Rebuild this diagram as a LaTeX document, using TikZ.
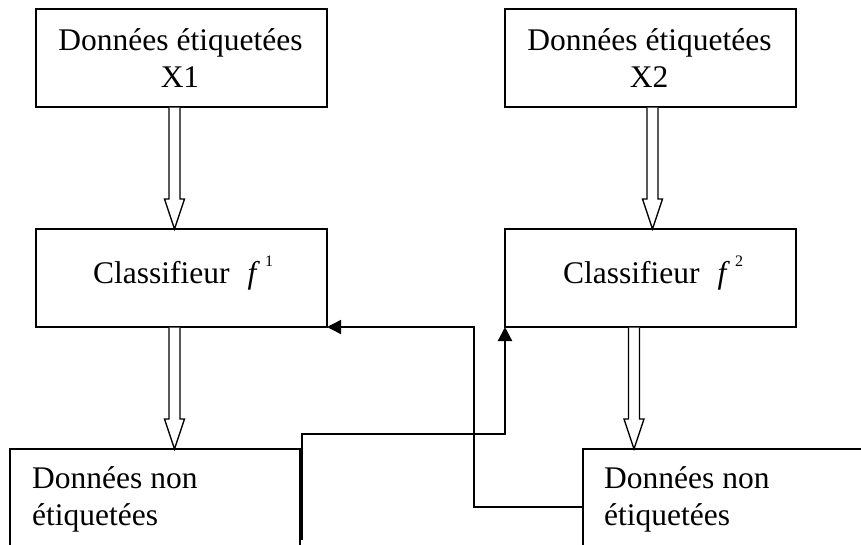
\documentclass[tikz,border=0pt]{standalone}
\usepackage{fontspec}
\setmainfont{Liberation Serif}
\usetikzlibrary{arrows.meta,calc}
\tikzset{
  box/.style={draw, line width=1.3pt, rectangle, inner sep=0pt, outer sep=0pt, anchor=north west},
  lbl/.style={inner sep=0pt, font=\fontsize{31.5}{37}\selectfont},
  harrow/.style={draw, line width=1.3pt, fill=white, line join=miter},
  conn/.style={line width=1.4pt, -{Triangle[length=14pt,width=14pt]}},
  connthick/.style={line width=2.2pt, -{Triangle[length=14pt,width=14pt]}}
}
\newcommand{\hollowarrow}[2]{%
  \draw[harrow] let \p1=(#1), \p2=(#2) in
    (\x1-5.5pt,\y1-0.7pt) -- (\x1-5.5pt,\y2+30pt) -- (\x1-10pt,\y2+30pt) -- (\x1,\y2)
    -- (\x1+10pt,\y2+30pt) -- (\x1+5.5pt,\y2+30pt) -- (\x1+5.5pt,\y1-0.7pt);}
\newcommand{\supone}[1]{\raisebox{17pt}{\fontsize{16}{16}\selectfont #1}}
\begin{document}
\begin{tikzpicture}[x=1pt,y=-1pt]
\useasboundingbox (0,0) rectangle (861,544);
\clip (0,0) rectangle (861,544);
% boxes
\node[box, minimum width=291pt, minimum height=98pt] (tl) at (36,9) {};
\node[box, minimum width=291pt, minimum height=98pt] (tr) at (505,9) {};
\node[box, minimum width=291pt, minimum height=98pt] (c1) at (36,229) {};
\node[box, minimum width=291pt, minimum height=98pt] (c2) at (505,229) {};
\node[box, minimum width=290pt, minimum height=130pt] (bl) at (10,449) {};
\node[box, minimum width=330pt, minimum height=130pt] (br) at (583,449) {};
% texts
\node[lbl, anchor=base] (tl1) at (180.5,50) {Données étiquetées};
\node[lbl, anchor=base] (tl2) at (180,87) {X1};
\node[lbl, anchor=base] (tr1) at (649.5,50) {Données étiquetées};
\node[lbl, anchor=base] (tr2) at (649,87) {X2};
\node[lbl, anchor=base west] (c1t) at (93,283) {Classifieur\hspace{18pt}\textit{f}\hspace{5pt}\supone{1}};
\node[lbl, anchor=base west] (c2t) at (563,283) {Classifieur\hspace{18pt}\textit{f}\hspace{5pt}\supone{2}};
\node[lbl, anchor=base west] (bl1) at (32,488) {Données non};
\node[lbl, anchor=base west] (bl2) at (32,525) {étiquetées};
\node[lbl, anchor=base west] (br1) at (604,488) {Données non};
\node[lbl, anchor=base west] (br2) at (604,525) {étiquetées};
% hollow arrows
\coordinate (a1s) at ($(tl.south west)+(138.5,0)$);
\coordinate (a1e) at (a1s |- c1.north);
\hollowarrow{a1s}{a1e}
\coordinate (a2s) at ($(tr.south west)+(147.5,0)$);
\coordinate (a2e) at (a2s |- c2.north);
\hollowarrow{a2s}{a2e}
\coordinate (a3s) at ($(c1.south west)+(138.5,0)$);
\coordinate (a3e) at (a3s |- bl.north);
\hollowarrow{a3s}{a3e}
\coordinate (a4s) at ($(c2.south west)+(129,0)$);
\coordinate (a4e) at (a4s |- br.north);
\hollowarrow{a4s}{a4e}
% feedback connectors
\coordinate (s1) at (302,540);
\coordinate (k1) at ($(c2.south west)+(0,107)$);
\draw[connthick] (s1) |- (k1) -- (c2.south west);
\coordinate (s2) at ($(br.north west)+(0,58)$);
\coordinate (k2) at ($(s2)+(-109,0)$);
\draw[conn] (s2) -- (k2) |- (c1.south east);
\end{tikzpicture}
\end{document}
